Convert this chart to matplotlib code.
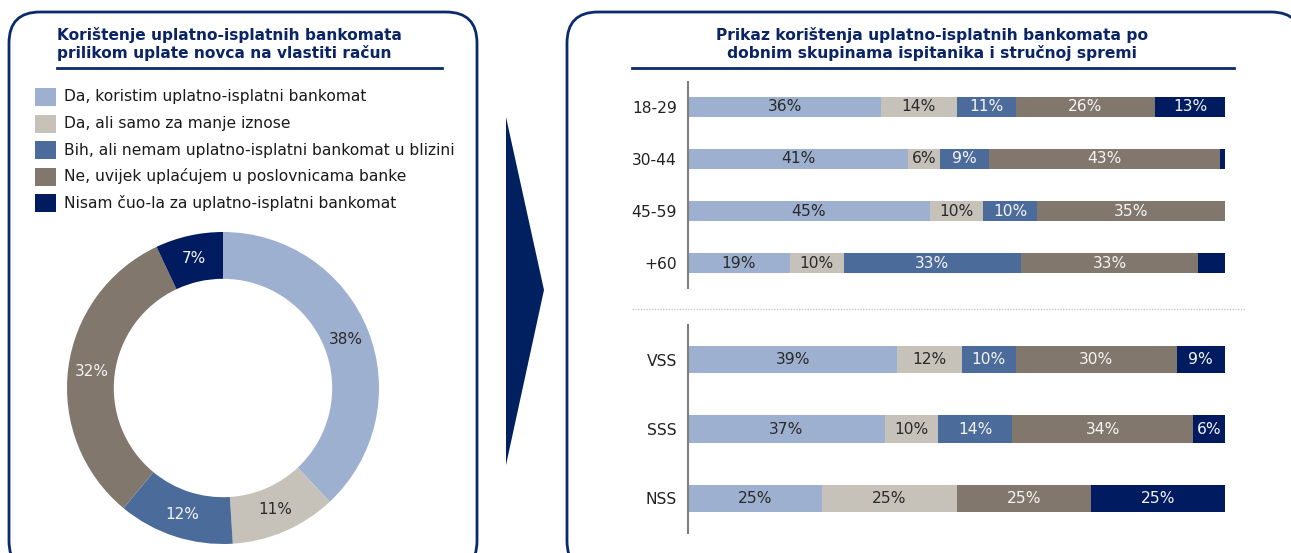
import matplotlib.pyplot as plt
from matplotlib.patches import FancyBboxPatch, Rectangle, Polygon

# boje
c_lblue = '#9DB0CF'
c_beige = '#C6C2BA'
c_mblue = '#4B6C9B'
c_taupe = '#82776D'
c_navy = '#001B5F'
c_frame = '#0B2A6E'

# podaci - krug
donut_labels = ['Da, koristim uplatno-isplatni bankomat',
                'Da, ali samo za manje iznose',
                'Bih, ali nemam uplatno-isplatni bankomat u blizini',
                'Ne, uvijek uplaćujem u poslovnicama banke',
                'Nisam čuo-la za uplatno-isplatni bankomat']
donut_values = [38, 11, 12, 32, 7]
colors = [c_lblue, c_beige, c_mblue, c_taupe, c_navy]
text_colors = ['#2a2a2a', '#2a2a2a', '#f4f4f4', '#f4f4f4', '#f4f4f4']

# podaci - stupci
age_groups = ['18-29', '30-44', '45-59', '+60']
age_da = [36, 41, 45, 19]
age_manje = [14, 6, 10, 10]
age_bih = [11, 9, 10, 33]
age_ne = [26, 43, 35, 33]
age_nisam = [13, 1, 0, 5]

edu_groups = ['VSS', 'SSS', 'NSS']
edu_da = [39, 37, 25]
edu_manje = [12, 10, 25]
edu_bih = [10, 14, 0]
edu_ne = [30, 34, 25]
edu_nisam = [9, 6, 25]

W, H = 1291, 553
fig = plt.figure(figsize=(W / 100, H / 100), dpi=100)

# pozadina u pikselima
bg = fig.add_axes([0, 0, 1, 1])
bg.set_xlim(0, W)
bg.set_ylim(H, 0)
bg.axis('off')

bg.add_patch(FancyBboxPatch((9, 12), 468, 560, boxstyle='round,pad=0,rounding_size=31',
                            fc='white', ec=c_frame, lw=2))
bg.add_patch(FancyBboxPatch((567, 12), 735, 560, boxstyle='round,pad=0,rounding_size=31',
                            fc='white', ec=c_frame, lw=2))
bg.add_patch(Polygon([(506, 117), (544, 290), (506, 465)], closed=True, fc='#00205F', ec='none'))

# naslovi
bg.text(57, 44, 'Korištenje uplatno-isplatnih bankomata\nprilikom uplate novca na vlastiti račun',
        fontsize=11.1, fontweight='bold', color='#0B2465', ha='left', va='center', linespacing=1.15)
bg.plot([57, 442], [68, 68], color=c_frame, lw=2)

bg.text(932, 44, 'Prikaz korištenja uplatno-isplatnih bankomata po\ndobnim skupinama ispitanika i stručnoj spremi',
        fontsize=11.2, fontweight='bold', color='#0B2465', ha='center', va='center', linespacing=1.15)
bg.plot([632, 1234], [68, 68], color=c_frame, lw=2)
bg.plot([632, 1245], [309, 309], color='#C8C8C8', lw=1, ls=(0, (1, 1)))

# legenda
for i, (lab, col) in enumerate(zip(donut_labels, colors)):
    y = 97 + i * 26.5
    bg.add_patch(Rectangle((35, y - 9), 21, 18, fc=col, ec='none'))
    bg.text(64, y, lab, fontsize=11.2, color='#1a1a1a', va='center', ha='left')

# krug
cx, cy, r = 223, 388, 156
ax_d = fig.add_axes([(cx - r) / W, (H - cy - r) / H, 2 * r / W, 2 * r / H])
wedges, _, autotexts = ax_d.pie(donut_values, colors=colors, startangle=90, counterclock=False,
                                radius=1, wedgeprops=dict(width=0.3, edgecolor='none'),
                                autopct='%d%%', pctdistance=0.85, textprops=dict(fontsize=11))
for t, tc in zip(autotexts, text_colors):
    t.set_color(tc)
ax_d.set_xlim(-1, 1)
ax_d.set_ylim(-1, 1)


def stacked(ax, cats, series, height):
    totals = [sum(v) for v in zip(*series)]
    left = [0] * len(cats)
    for vals, col, tc in zip(series, colors, text_colors):
        widths = [v / t * 100 for v, t in zip(vals, totals)]
        bars = ax.barh(range(len(cats)), widths, left=left, height=height, color=col, edgecolor='none')
        for b, v in zip(bars, vals):
            if v >= 6:
                ax.text(b.get_x() + b.get_width() / 2, b.get_y() + b.get_height() / 2, f'{v}%',
                        ha='center', va='center', color=tc, fontsize=11.2)
        left = [a + w for a, w in zip(left, widths)]
    ax.set_yticks(range(len(cats)))
    ax.set_yticklabels(cats, fontsize=11.2, color='#222222')
    ax.set_xlim(0, 100)
    ax.set_xticks([])
    ax.tick_params(axis='y', length=0, pad=8)
    for s in ['top', 'right', 'bottom']:
        ax.spines[s].set_visible(False)
    ax.spines['left'].set_color('#7F7F7F')
    ax.spines['left'].set_linewidth(1.5)
    ax.patch.set_alpha(0)


x0, x1 = 688, 1225
ax_a = fig.add_axes([x0 / W, (H - 288) / H, (x1 - x0) / W, (288 - 82) / H])
stacked(ax_a, age_groups, [age_da, age_manje, age_bih, age_ne, age_nisam], 0.385)
ax_a.set_ylim(3.48, -0.48)

ax_e = fig.add_axes([x0 / W, (H - 533) / H, (x1 - x0) / W, (533 - 325) / H])
stacked(ax_e, edu_groups, [edu_da, edu_manje, edu_bih, edu_ne, edu_nisam], 0.39)
ax_e.set_ylim(2.5, -0.5)

fig.savefig('out.png', dpi=100)
